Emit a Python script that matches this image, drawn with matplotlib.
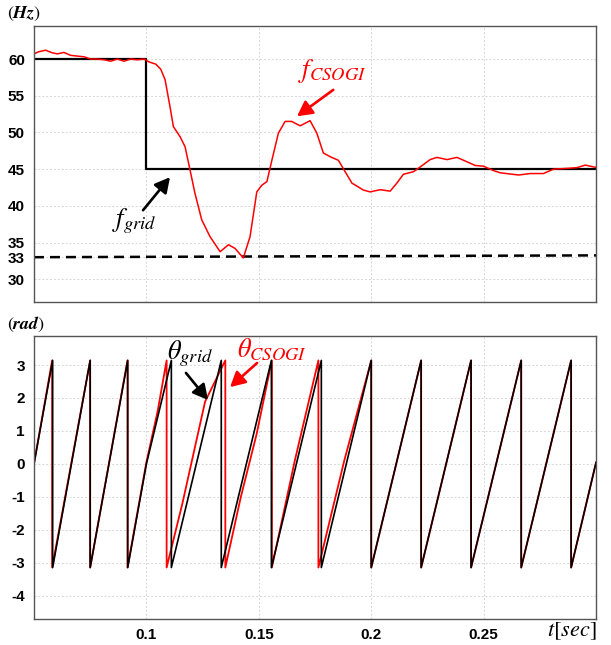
import matplotlib.pyplot as plt

plt.rcParams['font.family'] = ['Liberation Sans', 'DejaVu Sans']
plt.rcParams['mathtext.fontset'] = 'stix'

# 주파수 (Hz)
freq_t = [0.0500, 0.0522, 0.0552, 0.0581, 0.0604, 0.0633, 0.0663, 0.0693, 0.0723, 0.0752,
          0.0782, 0.0812, 0.0841, 0.0871, 0.0900, 0.0930, 0.0960, 0.0990, 0.1012, 0.1042,
          0.1064, 0.1083, 0.1105, 0.1120, 0.1150, 0.1172, 0.1194, 0.1216, 0.1246, 0.1283,
          0.1328, 0.1365, 0.1394, 0.1431, 0.1461, 0.1491, 0.1513, 0.1536, 0.1558, 0.1587,
          0.1617, 0.1646, 0.1684, 0.1728, 0.1758, 0.1787, 0.1817, 0.1854, 0.1884, 0.1914,
          0.1965, 0.1995, 0.2040, 0.2084, 0.2114, 0.2143, 0.2188, 0.2218, 0.2262, 0.2292,
          0.2337, 0.2381, 0.2426, 0.2462, 0.2499, 0.2544, 0.2574, 0.2655, 0.2707, 0.2766,
          0.2811, 0.2870, 0.2915, 0.2952, 0.2989, 0.3000]
freq_csogi = [60.7, 61.0, 61.2, 60.85, 60.7, 60.9, 60.5, 60.4, 60.3, 60.0,
              60.0, 59.9, 59.7, 60.0, 59.7, 60.0, 59.9, 60.0, 59.6, 59.3,
              58.6, 57.2, 53.5, 50.8, 49.4, 48.05, 44.9, 41.7, 38.1, 35.8,
              33.75, 34.7, 34.2, 32.9, 35.8, 41.9, 42.8, 43.3, 46.2, 49.9,
              51.5, 51.5, 50.9, 51.6, 49.9, 47.2, 46.7, 46.2, 44.65, 43.1,
              42.15, 41.9, 42.2, 42.0, 43.1, 44.3, 44.65, 45.3, 46.3, 46.6,
              46.3, 46.6, 46.0, 45.5, 45.4, 44.8, 44.5, 44.2, 44.4, 44.4,
              45.0, 45.1, 45.2, 45.55, 45.3, 45.25]
grid_t = [0.05, 0.1, 0.1, 0.3]
freq_grid = [60, 60, 45, 45]
limit_t = [0.05, 0.3]
freq_limit = [33, 33.25]

# 위상각 (rad)
theta_grid_t = [0.05, 0.0583, 0.0583, 0.075, 0.075, 0.0917, 0.0917, 0.1, 0.1111, 0.1111,
                0.1333, 0.1333, 0.1556, 0.1556, 0.1778, 0.1778, 0.2, 0.2, 0.2222, 0.2222,
                0.2444, 0.2444, 0.2667, 0.2667, 0.2889, 0.2889, 0.3]
theta_grid = [0, 3.14, -3.14, 3.14, -3.14, 3.14, -3.14, 0, 3.14, -3.14,
              3.14, -3.14, 3.14, -3.14, 3.14, -3.14, 3.14, -3.14, 3.14, -3.14,
              3.14, -3.14, 3.14, -3.14, 3.14, -3.14, 0.05]
theta_csogi_t = [0.05, 0.0581, 0.0581, 0.075, 0.075, 0.0916, 0.0916, 0.1, 0.105, 0.109, 0.109,
                 0.116, 0.1261, 0.1351, 0.1351, 0.142, 0.149, 0.1558, 0.1558, 0.166, 0.1765,
                 0.1765, 0.188, 0.2, 0.2, 0.2222, 0.2222, 0.2444, 0.2444, 0.2667, 0.2667,
                 0.2889, 0.2889, 0.3]
theta_csogi = [0, 3.14, -3.14, 3.14, -3.14, 3.14, -3.14, 0.05, 1.6, 3.14, -3.14,
               -1.2, 1.89, 3.14, -3.14, -1.0, 0.9, 3.14, -3.14, 0.1, 3.14,
               -3.14, 0.1, 3.14, -3.14, 3.14, -3.14, 3.14, -3.14, 3.14, -3.14,
               3.14, -3.14, 0.05]

xticks = [0.1, 0.15, 0.2, 0.25]
xtick_labels = ['0.1', '0.15', '0.2', '0.25']
f_ticks = [30, 33, 35, 40, 45, 50, 55, 60]
th_ticks = [-4, -3, -2, -1, 0, 1, 2, 3]

fig = plt.figure(figsize=(6.11, 6.45), dpi=100)
ax1 = fig.add_axes([0.0556, 0.5318, 0.92, 0.4279])
ax2 = fig.add_axes([0.0556, 0.0403, 0.92, 0.4388])

for ax in (ax1, ax2):
    ax.set_xlim(0.05, 0.3)
    ax.set_xticks(xticks)
    ax.tick_params(length=0, pad=6.5, labelsize=11)
    for s in ax.spines.values():
        s.set_color('#555555')
        s.set_linewidth(1.0)
    ax.grid(True, color='#d6d6d6', linestyle=(0, (2, 2)), linewidth=0.7)
    ax.set_axisbelow(True)


def arrow(ax, tail, head, color):
    ax.annotate('', xy=head, xytext=tail,
                arrowprops=dict(arrowstyle='-|>,head_length=0.6,head_width=0.32',
                                mutation_scale=15, color=color, lw=1.9,
                                shrinkA=0, shrinkB=0))


# 주파수 그래프
ax1.plot(grid_t, freq_grid, color='black', lw=1.6)
ax1.plot(limit_t, freq_limit, color='black', lw=1.8, dashes=(4, 2.4))
ax1.plot(freq_t, freq_csogi, color='red', lw=1.1)
ax1.set_ylim(26.9, 64.5)
ax1.set_yticks(f_ticks)
ax1.set_yticklabels([str(v) for v in f_ticks], fontweight='bold')
ax1.set_xticklabels([])
fig.text(7 / 611, 1 - 23 / 645, r'$(\mathbfit{Hz})$', fontsize=13, va='bottom')

ax1.text(0.0945, 37.9, r'$f_{grid}$', fontsize=19, ha='center', va='center')
arrow(ax1, (0.0985, 39.4), (0.1105, 43.9), 'black')
ax1.text(0.1826, 58.4, r'$f_{CSOGI}$', fontsize=19, ha='center', va='center', color='red')
arrow(ax1, (0.1831, 55.8), (0.1670, 52.2), 'red')

# 위상각 그래프
ax2.plot(theta_csogi_t, theta_csogi, color='red', lw=1.3)
ax2.plot(theta_grid_t, theta_grid, color='black', lw=1.2)
ax2.set_ylim(-4.7, 3.88)
ax2.set_yticks(th_ticks)
ax2.set_yticklabels([str(v) for v in th_ticks], fontweight='bold')
ax2.set_xticklabels(xtick_labels, fontweight='bold')
fig.text(7 / 611, 1 - 334 / 645, r'$(\mathbfit{rad})$', fontsize=13, va='bottom')
fig.text(597 / 611, 3 / 645, r'$t[sec]$', fontsize=16, ha='right', va='bottom')

ax2.text(0.1194, 3.33, r'$\theta_{grid}$', fontsize=19, ha='center', va='center')
arrow(ax2, (0.1176, 2.76), (0.1274, 1.94), 'black')
ax2.text(0.1559, 3.45, r'$\theta_{CSOGI}$', fontsize=19, ha='center', va='center', color='red')
arrow(ax2, (0.1492, 3.06), (0.1372, 2.33), 'red')

fig.savefig('out.png', dpi=100)
